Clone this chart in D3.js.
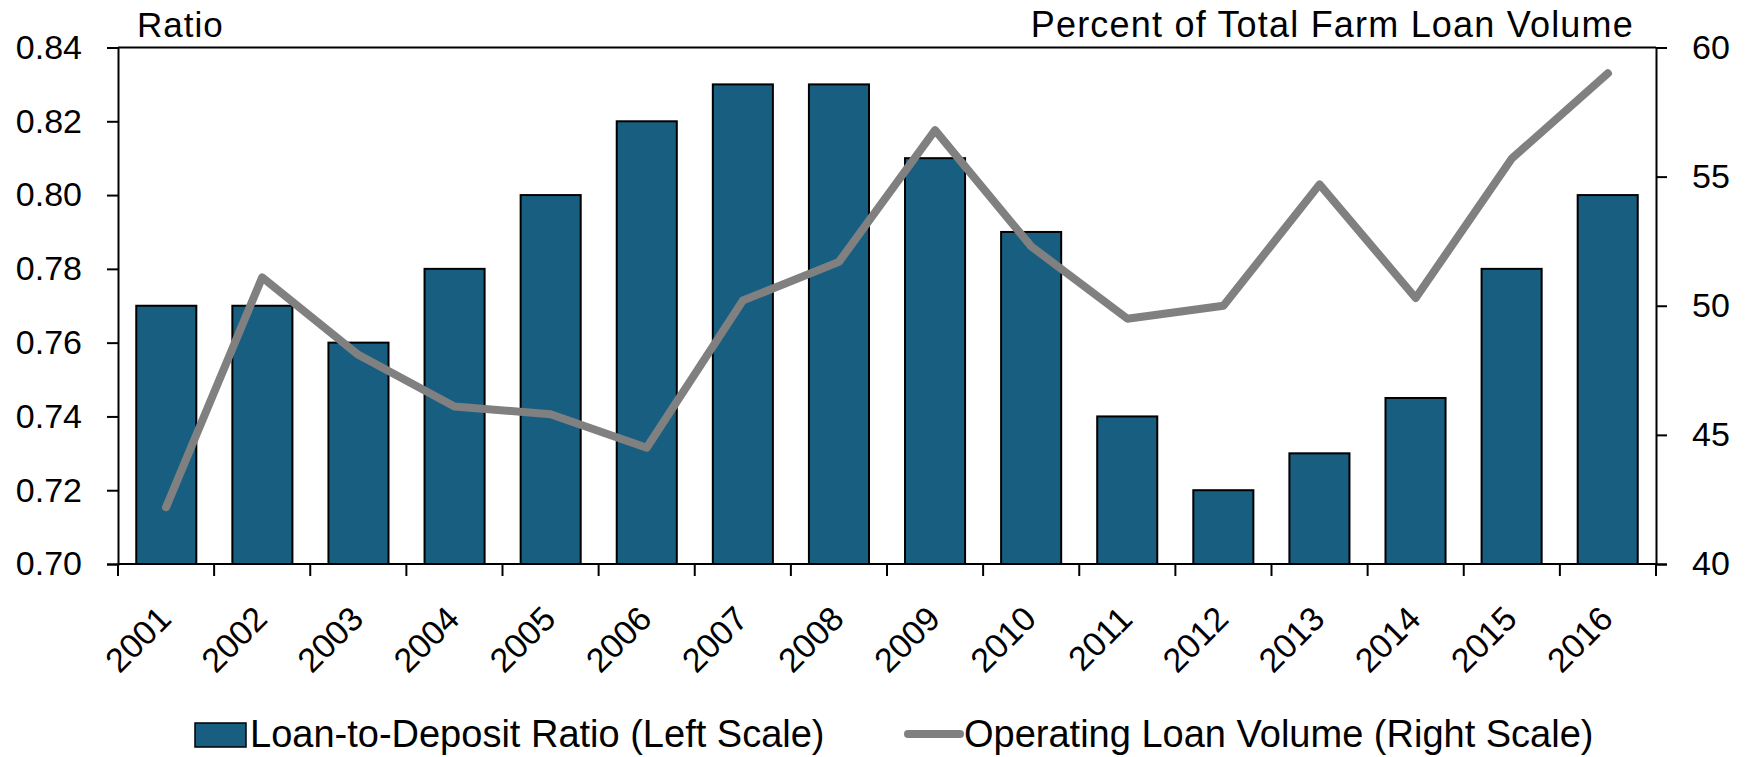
<!DOCTYPE html>
<html>
<head>
<meta charset="utf-8">
<script src="https://cdn.jsdelivr.net/npm/d3@7"></script>
<style>
  body { margin: 0; background: #fff; }
</style>
</head>
<body>
<svg id="chart" width="1748" height="757"></svg>
<script>
// data
const years = ["2001", "2002", "2003", "2004", "2005", "2006", "2007", "2008",
  "2009", "2010", "2011", "2012", "2013", "2014", "2015", "2016"];
const ratio = [0.77, 0.77, 0.76, 0.78, 0.80, 0.82, 0.83, 0.83,
  0.81, 0.79, 0.74, 0.72, 0.73, 0.745, 0.78, 0.80];
const opVolume = [42.2, 51.1, 48.1, 46.1, 45.8, 44.5, 50.2, 51.7,
  56.8, 52.3, 49.5, 50.0, 54.7, 50.3, 55.7, 59.0];
const leftTicks = [0.70, 0.72, 0.74, 0.76, 0.78, 0.80, 0.82, 0.84];
const rightTicks = [40, 45, 50, 55, 60];

const barColor = "#185e80";
const lineColor = "#808080";

// no serif fonts in the sandbox, Liberation Sans is the closest fit
const textFont = '"Liberation Sans", Arial, sans-serif';

const svg = d3.select("#chart");
const plot = { left: 118, right: 1656, top: 47.5, bottom: 564 };

const xScale = d3.scaleBand().domain(years)
  .range([plot.left, plot.right])
  .paddingInner(0.375).paddingOuter(0.19);
// band scale with no padding, used for tick positions at category edges
const xEdge = d3.scaleBand().domain(years).range([plot.left, plot.right]);

const yLeft = d3.scaleLinear().domain([0.70, 0.84]).range([plot.bottom, plot.top]);
const yRight = d3.scaleLinear().domain([40, 60]).range([plot.bottom, plot.top]);

// bars
svg.append("g").selectAll("rect")
  .data(ratio)
  .enter().append("rect")
  .attr("x", (d, i) => xScale(years[i]))
  .attr("y", d => yLeft(d))
  .attr("width", xScale.bandwidth())
  .attr("height", d => plot.bottom - yLeft(d))
  .attr("fill", barColor)
  .attr("stroke", "#000")
  .attr("stroke-width", 2);

// line on right scale
const line = d3.line()
  .x((d, i) => xEdge(years[i]) + xEdge.bandwidth() / 2)
  .y(d => yRight(d));

svg.append("path")
  .datum(opVolume)
  .attr("d", line)
  .attr("fill", "none")
  .attr("stroke", lineColor)
  .attr("stroke-width", 8)
  .attr("stroke-linejoin", "round")
  .attr("stroke-linecap", "round");

// top frame line
svg.append("line")
  .attr("x1", plot.left).attr("x2", plot.right)
  .attr("y1", plot.top).attr("y2", plot.top)
  .attr("stroke", "#000").attr("stroke-width", 2);

// left axis
const leftAxis = svg.append("g")
  .attr("transform", `translate(${plot.left},0)`)
  .call(d3.axisLeft(yLeft).tickValues(leftTicks).tickFormat(d3.format(".2f")).tickSize(11).tickPadding(25));

// right axis
const rightAxis = svg.append("g")
  .attr("transform", `translate(${plot.right},0)`)
  .call(d3.axisRight(yRight).tickValues(rightTicks).tickSize(11).tickPadding(25));

// bottom axis: labels rotated, ticks at category boundaries
const bottomAxis = svg.append("g")
  .attr("transform", `translate(0,${plot.bottom})`)
  .call(d3.axisBottom(xEdge).tickSize(0));

bottomAxis.selectAll(".tick text")
  .attr("x", 0).attr("y", 0).attr("dy", 0)
  .attr("text-anchor", "end")
  .attr("transform", "translate(7,57) rotate(-45)");

bottomAxis.selectAll(".edge")
  .data(years.concat(["end"]))
  .enter().append("line")
  .attr("x1", (d, i) => i < years.length ? xEdge(d) : plot.right)
  .attr("x2", (d, i) => i < years.length ? xEdge(d) : plot.right)
  .attr("y1", 0).attr("y2", 12)
  .attr("stroke", "#000").attr("stroke-width", 2);

[leftAxis, rightAxis, bottomAxis].forEach(g => {
  g.attr("font-family", textFont).attr("font-size", 34);
  g.selectAll("path.domain").attr("stroke", "#000").attr("stroke-width", 2);
  g.selectAll(".tick line").attr("stroke", "#000").attr("stroke-width", 2);
  g.selectAll(".tick text").attr("fill", "#000");
});
bottomAxis.select("path.domain").attr("d", `M${plot.left},0H${plot.right}`);

// axis titles
svg.append("text")
  .attr("x", 137).attr("y", 37)
  .attr("font-family", textFont).attr("font-size", 35)
  .attr("letter-spacing", 1)
  .text("Ratio");

svg.append("text")
  .attr("x", 1634).attr("y", 37)
  .attr("text-anchor", "end")
  .attr("font-family", textFont).attr("font-size", 36)
  .attr("letter-spacing", 1.2)
  .text("Percent of Total Farm Loan Volume");

// legend
const legend = svg.append("g")
  .attr("font-family", textFont).attr("font-size", 38);
legend.append("rect")
  .attr("x", 195).attr("y", 723)
  .attr("width", 51).attr("height", 24)
  .attr("fill", barColor).attr("stroke", "#000").attr("stroke-width", 1.5);
legend.append("text")
  .attr("x", 250).attr("y", 747)
  .text("Loan-to-Deposit Ratio (Left Scale)");

legend.append("line")
  .attr("x1", 908).attr("x2", 960)
  .attr("y1", 734).attr("y2", 734)
  .attr("stroke", lineColor).attr("stroke-width", 8)
  .attr("stroke-linecap", "round");
legend.append("text")
  .attr("x", 964).attr("y", 747)
  .text("Operating Loan Volume (Right Scale)");
</script>
</body>
</html>
